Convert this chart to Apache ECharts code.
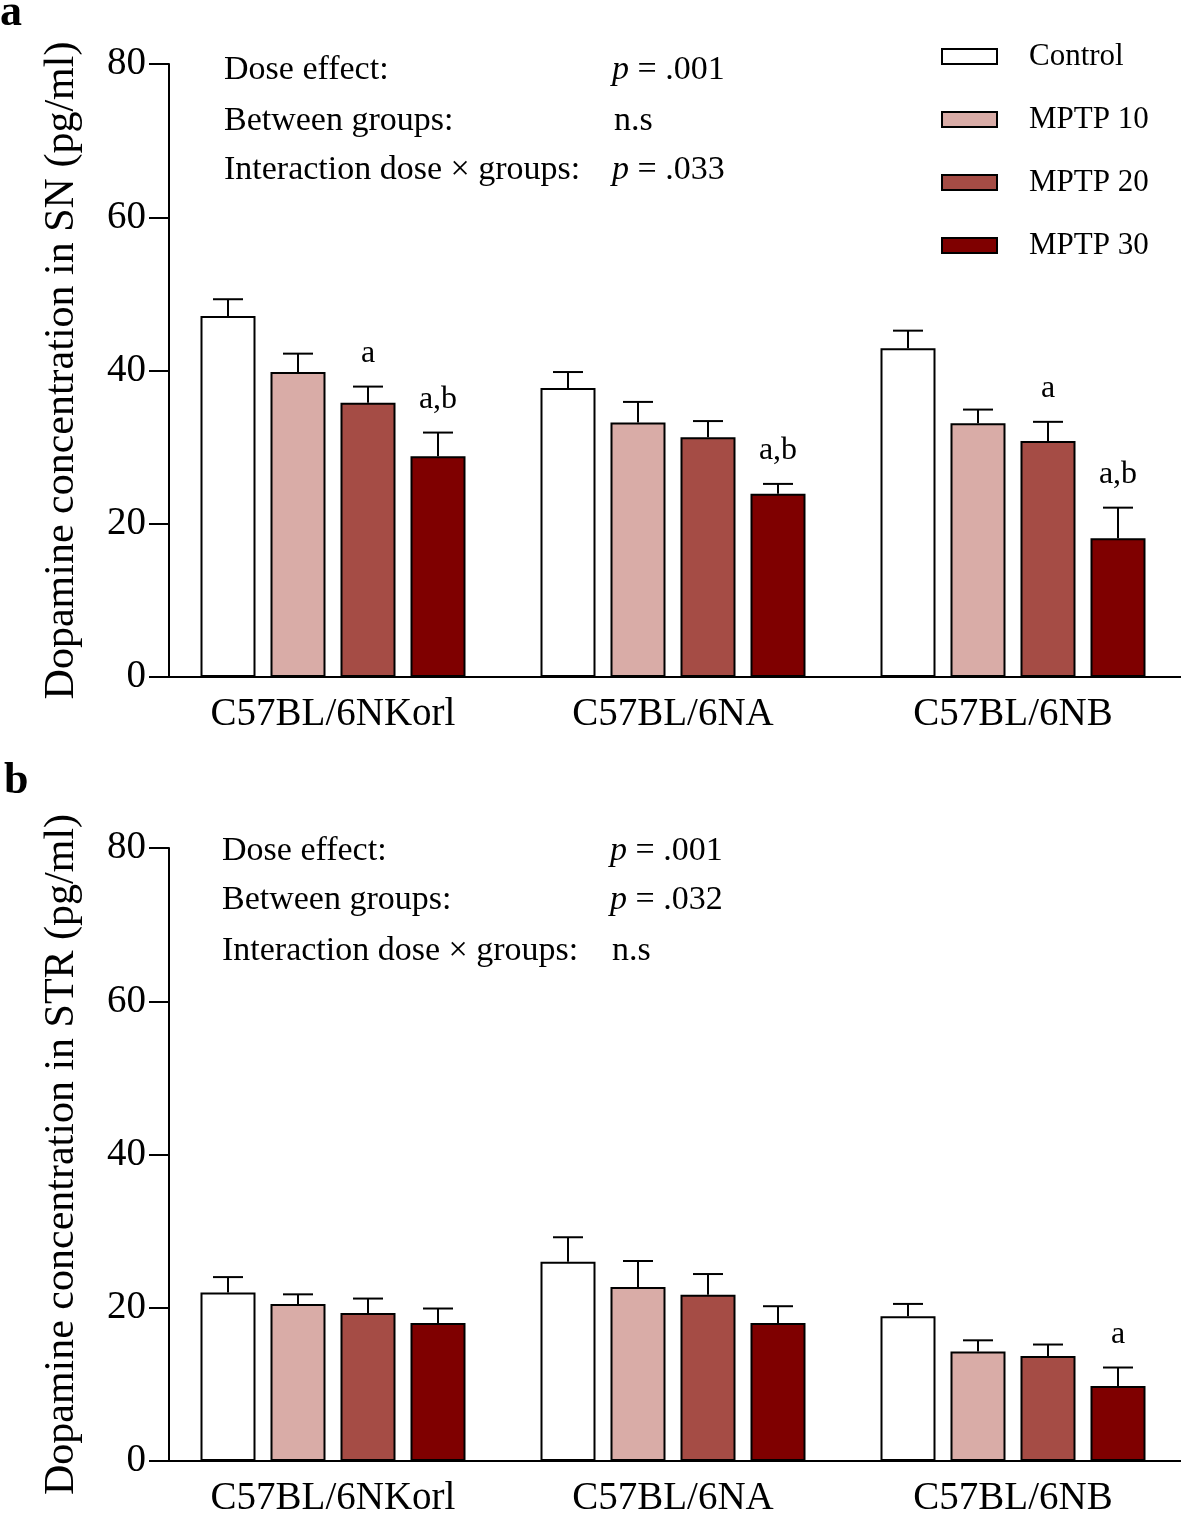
<!DOCTYPE html>
<html>
<head>
<meta charset="utf-8">
<script src="https://cdn.jsdelivr.net/npm/echarts@6/dist/echarts.min.js"></script>
<style>
  html, body { margin: 0; padding: 0; background: #fff; }
  #chart { width: 1181px; height: 1515px; }
</style>
</head>
<body>
<div id="chart"></div>
<script>
// ---------------- DATA ----------------
const categories = ['C57BL/6NKorl', 'C57BL/6NA', 'C57BL/6NB'];
const seriesNames = ['Control', 'MPTP 10', 'MPTP 20', 'MPTP 30'];

// Panel a: Dopamine in SN (pg/ml), mean and SEM
const snControl = [47.1, 37.7, 42.9];
const snMPTP10  = [39.8, 33.2, 33.1];
const snMPTP20  = [35.8, 31.3, 30.8];
const snMPTP30  = [28.8, 23.9, 18.1];
const snControlSem = [2.2, 2.1, 2.3];
const snMPTP10Sem  = [2.4, 2.7, 1.8];
const snMPTP20Sem  = [2.1, 2.1, 2.5];
const snMPTP30Sem  = [3.1, 1.3, 4.0];
const snControlSig = ['', '', ''];
const snMPTP10Sig  = ['', '', ''];
const snMPTP20Sig  = ['a', '', 'a'];
const snMPTP30Sig  = ['a,b', 'a,b', 'a,b'];

// Panel b: Dopamine in STR (pg/ml), mean and SEM
const strControl = [22.0, 26.0, 18.9];
const strMPTP10  = [20.5, 22.7, 14.3];
const strMPTP20  = [19.3, 21.7, 13.7];
const strMPTP30  = [18.0, 18.0, 9.8];
const strControlSem = [2.0, 3.2, 1.6];
const strMPTP10Sem  = [1.25, 3.4, 1.45];
const strMPTP20Sem  = [1.9, 2.7, 1.5];
const strMPTP30Sem  = [1.9, 2.2, 2.4];
const strControlSig = ['', '', ''];
const strMPTP10Sig  = ['', '', ''];
const strMPTP20Sig  = ['', '', ''];
const strMPTP30Sig  = ['', '', 'a'];

const yTicks = [0, 20, 40, 60, 80];

const statLabels = ['Dose effect:', 'Between groups:', 'Interaction dose \u00d7 groups:'];
const snStatValues  = ['p = .001', 'n.s', 'p = .033'];
const strStatValues = ['p = .001', 'p = .032', 'n.s'];

const yTitleSN  = 'Dopamine concentration in SN (pg/ml)';
const yTitleSTR = 'Dopamine concentration in STR (pg/ml)';

// ---------------- STYLE ----------------
const FONT = "'Liberation Serif', 'Times New Roman', serif";
const colors = ['#ffffff', '#d9aca7', '#a54c45', '#7f0000'];
const BAR_W = 55;
const BAR_GAP = 15;
const PITCH = BAR_W + BAR_GAP;

const chart = echarts.init(document.getElementById('chart'), null, { renderer: 'canvas' });

const panels = [
  { means: [snControl, snMPTP10, snMPTP20, snMPTP30],
    sems: [snControlSem, snMPTP10Sem, snMPTP20Sem, snMPTP30Sem],
    sigs: [snControlSig, snMPTP10Sig, snMPTP20Sig, snMPTP30Sig],
    title: yTitleSN, top: 64 },
  { means: [strControl, strMPTP10, strMPTP20, strMPTP30],
    sems: [strControlSem, strMPTP10Sem, strMPTP20Sem, strMPTP30Sem],
    sigs: [strControlSig, strMPTP10Sig, strMPTP20Sig, strMPTP30Sig],
    title: yTitleSTR, top: 848 }
];

const grids = [], xAxes = [], yAxes = [], series = [];
panels.forEach((p, pi) => {
  grids.push({ left: 163, top: p.top, width: 1020, height: 613, outerBoundsMode: 'none', containLabel: false });
  xAxes.push({
    type: 'category', gridIndex: pi, data: categories,
    axisLine: { lineStyle: { color: '#000', width: 2 } },
    axisTick: { alignWithLabel: true, length: 12, lineStyle: { color: '#000', width: 2 } },
    axisLabel: { fontFamily: FONT, fontSize: 39, color: '#000', margin: 18 },
    splitLine: { show: false }
  });
  yAxes.push({
    type: 'value', gridIndex: pi, min: yTicks[0], max: yTicks[yTicks.length - 1],
    interval: yTicks[1] - yTicks[0], offset: -6,
    name: p.title, nameLocation: 'middle', nameRotate: 90, nameGap: 86,
    nameTextStyle: { fontFamily: FONT, fontSize: 42, color: '#000' },
    axisLine: { show: true, lineStyle: { color: '#000', width: 2 } },
    axisTick: { show: true, length: 20, lineStyle: { color: '#000', width: 2 } },
    axisLabel: { fontFamily: FONT, fontSize: 39, color: '#000', margin: 23 },
    splitLine: { show: false }
  });
  p.means.forEach((vals, si) => {
    series.push({
      type: 'bar', name: seriesNames[si], xAxisIndex: pi, yAxisIndex: pi,
      data: vals, barWidth: BAR_W, barGap: (BAR_GAP / BAR_W * 100) + '%',
      itemStyle: { color: colors[si], borderColor: '#000', borderWidth: 2 },
      emphasis: { disabled: true }, animation: false
    });
  });
  p.means.forEach((vals, si) => {
    const sems = p.sems[si], sigs = p.sigs[si];
    const off = (si - 1.5) * PITCH;
    series.push({
      type: 'custom', xAxisIndex: pi, yAxisIndex: pi, z: 5, animation: false,
      data: vals.map((v, i) => [i, v, sems[i]]),
      renderItem: function (params, api) {
        const base = api.coord([api.value(0), api.value(1)]);
        const top = api.coord([api.value(0), api.value(1) + api.value(2)]);
        const cx = base[0] + off;
        const ls = { stroke: '#000', lineWidth: 2 };
        const children = [
          { type: 'line', shape: { x1: cx, y1: base[1], x2: cx, y2: top[1] }, style: ls },
          { type: 'line', shape: { x1: cx - 15, y1: top[1], x2: cx + 15, y2: top[1] }, style: ls }
        ];
        const s = sigs[params.dataIndex];
        if (s) {
          children.push({ type: 'text', x: cx, y: top[1] - 33,
            style: { text: s, fontFamily: FONT, fontSize: 32, fill: '#000', align: 'center', verticalAlign: 'middle' } });
        }
        return { type: 'group', children: children };
      }
    });
  });
});

function statText(v) {
  return v.startsWith('p ') ? '{i|p}' + v.slice(1) : v;
}
const graphics = [];
const statRowsA = [70.5, 121.5, 170.5];
const statRowsB = [851.5, 900.5, 951.5];
[[statRowsA, snStatValues, 224, 612], [statRowsB, strStatValues, 222, 610]].forEach(([rows, vals, lx, vx]) => {
  rows.forEach((y, i) => {
    graphics.push({ type: 'text', x: lx, y: y,
      style: { text: statLabels[i], fontFamily: FONT, fontSize: 34, fill: '#000', verticalAlign: 'middle' } });
    graphics.push({ type: 'text', x: vals[i].startsWith('p ') ? vx : vx + 2, y: y,
      style: { text: statText(vals[i]), fontFamily: FONT, fontSize: 34, fill: '#000', verticalAlign: 'middle',
        rich: { i: { fontStyle: 'italic', fontFamily: FONT, fontSize: 34 } } } });
  });
});
graphics.push({ type: 'text', x: 0, y: 14, style: { text: 'a', fontFamily: FONT, fontSize: 44, fontWeight: 'bold', fill: '#000', verticalAlign: 'middle' } });
graphics.push({ type: 'text', x: 4, y: 782, style: { text: 'b', fontFamily: FONT, fontSize: 44, fontWeight: 'bold', fill: '#000', verticalAlign: 'middle' } });

chart.setOption({
  animation: false,
  backgroundColor: '#fff',
  grid: grids, xAxis: xAxes, yAxis: yAxes, series: series,
  legend: {
    data: seriesNames, orient: 'vertical', left: 941, top: 41, padding: 0,
    itemWidth: 55, itemHeight: 15, itemGap: 32, icon: 'rect',
    textStyle: { fontFamily: FONT, fontSize: 31, color: '#000', lineHeight: 31, padding: [0, 0, 0, 27] },
    selectedMode: false
  },
  graphic: graphics
});
</script>
</body>
</html>
